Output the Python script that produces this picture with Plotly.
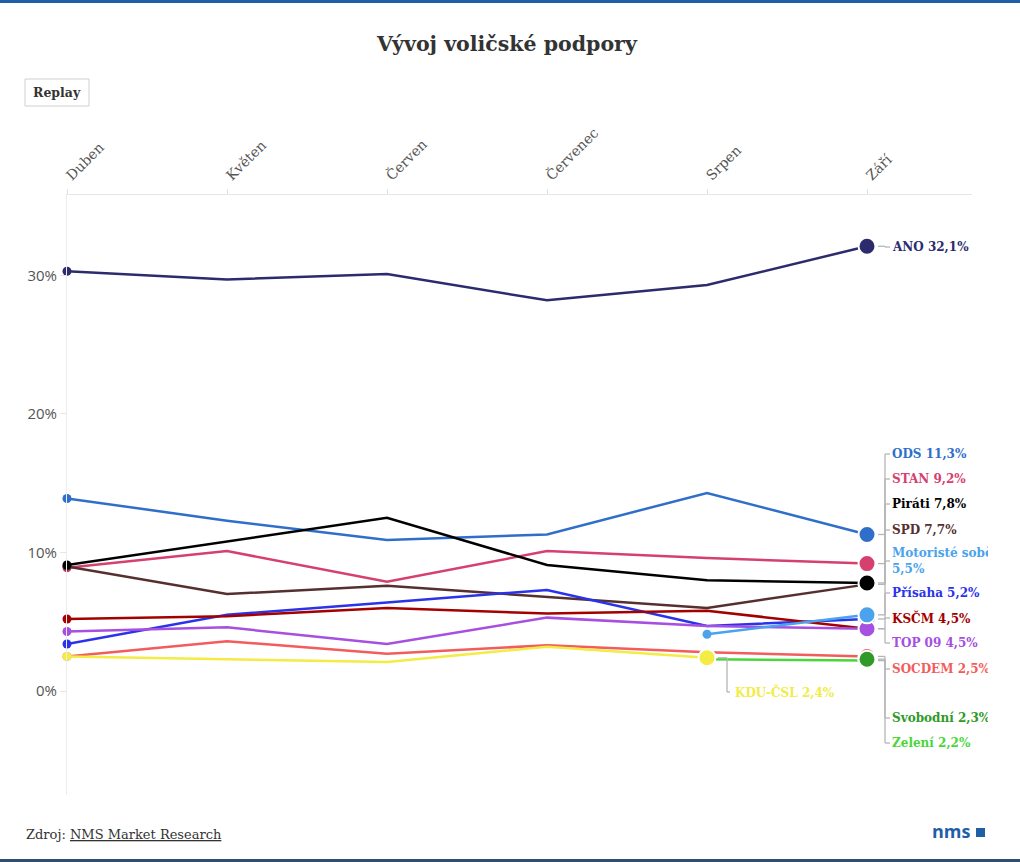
import plotly.graph_objects as go

# ---------------- data ----------------
months = ["Duben", "Květen", "Červen", "Červenec", "Srpen", "Září"]

ano = [30.3, 29.7, 30.1, 28.2, 29.3, 32.1]
ods = [13.9, 12.3, 10.9, 11.3, 14.3, 11.3]
stan = [8.9, 10.1, 7.9, 10.1, 9.6, 9.2]
spd = [9.0, 7.0, 7.6, 6.8, 6.0, 7.7]
pirati = [9.1, 10.8, 12.5, 9.1, 8.0, 7.8]
prisaha = [3.4, 5.5, 6.4, 7.3, 4.7, 5.2]
kscm = [5.2, 5.4, 6.0, 5.6, 5.8, 4.5]
top09 = [4.3, 4.6, 3.4, 5.3, 4.7, 4.5]
motoriste = [None, None, None, None, 4.1, 5.5]
socdem = [2.5, 3.6, 2.7, 3.3, 2.8, 2.5]
zeleni = [None, None, None, None, 2.3, 2.2]
svobodni = [None, None, None, None, None, 2.3]
kdu = [2.5, 2.3, 2.1, 3.2, 2.4, None]

# (name, label name, values, colour) in drawing order
series = [
    ("ANO", "ANO", ano, "#2b2b6e"),
    ("ODS", "ODS", ods, "#2f6fca"),
    ("STAN", "STAN", stan, "#d5406f"),
    ("SPD", "SPD", spd, "#562f2f"),
    ("Piráti", "Piráti", pirati, "#000000"),
    ("Přísaha", "Přísaha", prisaha, "#2b33ea"),
    ("KSČM", "KSČM", kscm, "#a30000"),
    ("TOP 09", "TOP 09", top09, "#a64fe0"),
    ("Motoristé sobě", "Motoristé sobě", motoriste, "#4aa3ec"),
    ("SOCDEM", "SOCDEM", socdem, "#f25c5c"),
    ("Zelení", "Zelení", zeleni, "#4ad63a"),
    ("Svobodní", "Svobodní", svobodni, "#2f9a27"),
    ("KDU-ČSL", "KDU-ČSL", kdu, "#f2ec45"),
]

# ---------------- layout geometry (pixels) ----------------
W, H = 1020, 862
ML, MR, MT, MB = 67, 48, 195, 67
PW, PH = W - ML - MR, H - MT - MB
Y0, Y1 = -7.5, 35.8
STEP = 160.0                     # px per month
X1 = 5 + (W - MR - (ML + 5 * STEP)) / STEP


def px_x(px):
    return (px - ML) / PW


def py_y(py):
    return (H - MB - py) / PH


def py_data(py):
    return Y1 - (py - MT) / PH * (Y1 - Y0)


def fmt(v):
    return ("%.1f" % v).replace(".", ",") + "%"


# label placement (pixel y of label centre), right side column
label_py = {
    "ANO": 247, "ODS": 454, "STAN": 479, "Piráti": 504, "SPD": 530,
    "Motoristé sobě": 561, "Přísaha": 593, "KSČM": 618, "TOP 09": 643,
    "SOCDEM": 669, "Svobodní": 718, "Zelení": 743,
}
LABEL_X = 893
BRACKET_X = 885
KDU_LABEL = (733, 692)
KDU_BRACKET_X = 727

fig = go.Figure()

for name, lab, vals, color in series:
    idx = [i for i, v in enumerate(vals) if v is not None]
    sizes = [0] * len(vals)
    lws = [0] * len(vals)
    sizes[idx[0]] = 9
    sizes[idx[-1]] = 17
    lws[idx[-1]] = 2
    fig.add_trace(go.Scatter(
        x=list(range(len(months))), y=vals, name=name,
        mode="lines+markers",
        line=dict(color=color, width=2.5),
        marker=dict(size=sizes, color=color, opacity=1,
                    line=dict(color="white", width=lws)),
        cliponaxis=False, connectgaps=False, showlegend=False,
        hoverinfo="skip",
    ))

annotations = []
shapes = []
conn_color = "#b5b5b5"

for name, lab, vals, color in series:
    idx = [i for i, v in enumerate(vals) if v is not None]
    last_i = idx[-1]
    last_v = vals[last_i]
    text = "<b>%s %s</b>" % (lab, fmt(last_v))
    dot_px = ML + last_i * STEP
    if name == "KDU-ČSL":
        lx, lpy = KDU_LABEL
        bx = KDU_BRACKET_X
        annotations.append(dict(
            x=px_x(lx), y=py_y(lpy), xref="paper", yref="paper",
            text=text, showarrow=False, xanchor="left", yanchor="middle",
            font=dict(family="DejaVu Serif", size=12, color=color)))
    else:
        lpy = label_py[name]
        bx = BRACKET_X
        lx = LABEL_X
        if name == "Motoristé sobě":
            text = "<b>%s<br>%s</b>" % (lab, fmt(last_v))
        annotations.append(dict(
            x=px_x(lx - 3), y=py_y(lpy), xref="paper", yref="paper",
            text=text, showarrow=False, xanchor="left", yanchor="middle",
            align="left", width=W - 31 - lx,
            font=dict(family="DejaVu Serif", size=12, color=color)))
    ly = py_data(lpy)
    line_style = dict(color=conn_color, width=1.3)
    shapes.append(dict(type="line", xref="paper", yref="y",
                       x0=px_x(dot_px + 11), x1=px_x(bx), y0=last_v, y1=last_v,
                       line=line_style))
    shapes.append(dict(type="line", xref="paper", yref="y",
                       x0=px_x(bx), x1=px_x(bx), y0=last_v, y1=ly,
                       line=line_style))
    shapes.append(dict(type="line", xref="paper", yref="y",
                       x0=px_x(bx), x1=px_x(lx - 3), y0=ly, y1=ly,
                       line=line_style))

# top / bottom brand bars
shapes.append(dict(type="rect", xref="paper", yref="paper",
                   x0=px_x(0), x1=px_x(W), y0=py_y(3), y1=py_y(0),
                   line=dict(width=0), fillcolor="#1f5fa6", layer="above"))
shapes.append(dict(type="rect", xref="paper", yref="paper",
                   x0=px_x(0), x1=px_x(W), y0=py_y(H), y1=py_y(H - 3),
                   line=dict(width=0), fillcolor="#2f4f72", layer="above"))
# Replay button
shapes.append(dict(type="rect", xref="paper", yref="paper",
                   x0=px_x(25), x1=px_x(89), y0=py_y(106), y1=py_y(79),
                   line=dict(color="#cfcfcf", width=1), fillcolor="white"))
annotations.append(dict(x=px_x(57), y=py_y(92.5), xref="paper", yref="paper",
                        text="<b>Replay</b>", showarrow=False,
                        xanchor="center", yanchor="middle",
                        font=dict(family="DejaVu Serif", size=12.5, color="#333")))
# footer
annotations.append(dict(x=px_x(24), y=py_y(834), xref="paper", yref="paper",
                        text="Zdroj: <u>NMS Market Research</u>", showarrow=False,
                        xanchor="left", yanchor="middle",
                        font=dict(family="DejaVu Serif", size=13, color="#333")))
annotations.append(dict(x=px_x(973), y=py_y(831), xref="paper", yref="paper",
                        text="<b>nms</b>", showarrow=False,
                        xanchor="right", yanchor="middle",
                        font=dict(family="Open Sans", size=18, color="#1f5fa6")))
shapes.append(dict(type="rect", xref="paper", yref="paper",
                   x0=px_x(976), x1=px_x(985), y0=py_y(837), y1=py_y(828),
                   line=dict(width=0), fillcolor="#1f5fa6"))

fig.update_layout(
    width=W, height=H, autosize=False,
    margin=dict(l=ML, r=MR, t=MT, b=MB, pad=0),
    paper_bgcolor="white", plot_bgcolor="white",
    title=dict(text="<b>Vývoj voličské podpory</b>", x=0.497, xanchor="center",
               y=1 - 44 / H, yanchor="middle", yref="container",
               font=dict(family="DejaVu Serif", size=20.5, color="#333")),
    xaxis=dict(range=[0, X1], side="top", tickmode="array",
               tickvals=list(range(len(months))), ticktext=months,
               tickangle=-45, showgrid=False, zeroline=False,
               showline=True, linecolor="#e6e6e6", linewidth=1,
               ticks="outside", ticklen=5, tickcolor="#e0e0e0",
               tickfont=dict(family="DejaVu Serif", size=14, color="#555")),
    yaxis=dict(range=[Y0, Y1], tickmode="array", tickvals=[0, 10, 20, 30],
               ticktext=["0%", "10%", "20%", "30%"], showgrid=False,
               zeroline=False, showline=True, linecolor="#ececec", linewidth=1,
               ticks="outside", ticklen=6, tickcolor="#e6e6e6",
               tickfont=dict(family="Open Sans", size=15, color="#555")),
    annotations=annotations, shapes=shapes,
)

fig.write_html("out.html", config={"displayModeBar": False},
               post_script="document.body.style.margin='0';")
